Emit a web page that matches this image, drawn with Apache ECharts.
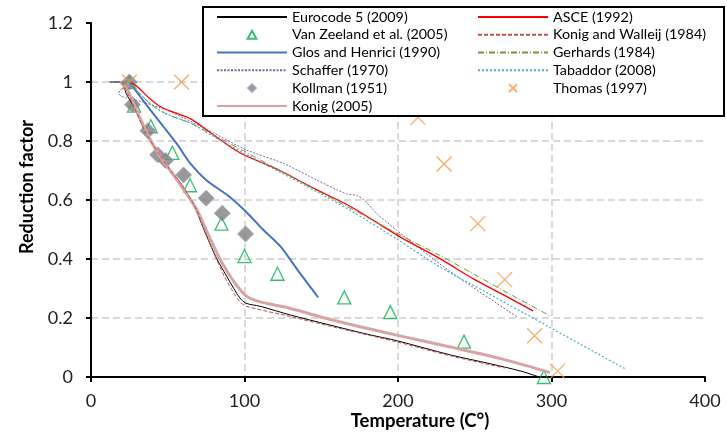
<!DOCTYPE html>
<html><head><meta charset="utf-8">
<script src="https://cdn.jsdelivr.net/npm/echarts@6/dist/echarts.min.js"></script>
<style>html,body{margin:0;padding:0;background:#fff}#c{width:727px;height:438px}</style>
</head><body><div id="c"></div>
<script>
// Data: [temperature °C, reduction factor]
const eurocode5 = [[12,1.0],[20,1.0],[23,0.96],[28,0.915],[36,0.825],[45,0.75],[52,0.70],[60,0.645],[68,0.57],[72,0.52],[76,0.47],[82,0.40],[88,0.345],[93,0.30],[97,0.268],[101,0.25],[110,0.24],[130,0.21],[155,0.177],[180,0.145],[200,0.122],[234,0.075],[260,0.045],[280,0.02],[292,0.0]];
const vanZeeland = [[25,1.0],[28,0.92],[39,0.85],[53,0.76],[64.5,0.65],[85,0.52],[100,0.41],[121.5,0.35],[165,0.27],[195,0.22],[243,0.12],[295,0.0]];
const glosHenrici = [[25,1.0],[35,0.93],[47,0.85],[56,0.79],[64.5,0.725],[75,0.668],[90,0.612],[101,0.56],[112,0.50],[123,0.445],[135,0.36],[148,0.27]];
const schaffer = [[22,0.985],[19,0.972],[18,0.962],[19.5,0.952],[23,0.946],[34,0.932],[49,0.905],[58,0.884],[80,0.827],[101,0.77],[125,0.725],[147,0.668],[160,0.635],[167,0.62],[173,0.616],[178,0.60],[186,0.555],[199,0.498],[234,0.357],[277.5,0.204]];
const kollman = [[25,1.0],[27,0.923],[37,0.835],[43.4,0.753],[48.6,0.734],[60.3,0.685],[75,0.606],[85.5,0.555],[100.7,0.485]];
const konig2005 = [[19,1.0],[24,0.97],[30,0.9],[38,0.81],[46,0.74],[53,0.69],[61,0.63],[69,0.566],[77,0.476],[83,0.41],[89,0.355],[95,0.31],[101,0.275],[108,0.258],[130,0.232],[156,0.195],[199,0.142],[234,0.102],[270,0.058],[299,0.015]];
const asce = [[25,1.0],[30,0.985],[38,0.945],[45,0.917],[55,0.895],[65,0.875],[80,0.82],[97,0.76],[123,0.70],[145,0.64],[169,0.578],[201,0.476],[227,0.402],[250,0.33],[270,0.275],[288,0.224]];
const konigWalleij = [[20,1.0],[24,0.96],[28,0.915],[36,0.825],[45,0.75],[52,0.70],[60,0.645],[68,0.575],[73,0.51],[80,0.42],[87,0.34],[93,0.285],[97,0.255],[101,0.24],[130,0.205],[160,0.167],[200,0.118],[234,0.072],[270,0.03]];
const gerhards = [[25,1.0],[30,0.97],[40,0.92],[50,0.89],[65,0.86],[80,0.82],[100,0.765],[123,0.70],[150,0.625],[175,0.555],[200,0.485],[227,0.413],[250,0.347],[275,0.275],[299.5,0.206]];
const tabaddor = [[25,1.0],[30,0.97],[40,0.92],[50,0.89],[65,0.86],[80,0.815],[100,0.758],[123,0.695],[150,0.62],[168.6,0.566],[200,0.465],[227,0.374],[260,0.28],[300,0.165],[349,0.025]];
const thomas = [[25,1.0],[59,1.0],[213,0.88],[230,0.722],[252,0.52],[269.5,0.33],[289,0.14],[304,0.02]];

const legendLeft = ['Eurocode 5 (2009)','Van Zeeland et al. (2005)','Glos and Henrici (1990)','Schaffer (1970)','Kollman (1951)','Konig (2005)'];
const legendRight = ['ASCE (1992)','Konig and Walleij (1984)','Gerhards (1984)','Tabaddor (2008)','Thomas (1997)'];
const legendIcons = {
  'Van Zeeland et al. (2005)': 'path://M5,0L10,9L0,9Z',
  'Kollman (1951)': 'path://M5,0L10,5L5,10L0,5Z',
  'Thomas (1997)': 'path://M0,0L10,10M10,0L0,10'
};

const FONT = 'Lato';
function line(name, data, color, width, type, smooth) {
  return {name, type:'line', data, symbol:'none', smooth: smooth === undefined ? 0.3 : smooth,
    lineStyle:{color, width, type}, itemStyle:{color}, emphasis:{disabled:true}};
}
const series = [
  line('Eurocode 5 (2009)', eurocode5, '#000000', 1, 'solid'),
  {name:'Van Zeeland et al. (2005)', type:'scatter', data:vanZeeland, symbol:'triangle', symbolSize:13,
    itemStyle:{color:'rgba(255,255,255,0)', borderColor:'#00b050', borderWidth:1.3}},
  line('Glos and Henrici (1990)', glosHenrici, '#4472c4', 2, 'solid'),
  line('Schaffer (1970)', schaffer, '#7a63a0', 1, [2,1.5], 0.2),
  {name:'Kollman (1951)', type:'scatter', data:kollman, symbol:'diamond', symbolSize:16,
    itemStyle:{color:'#7f7f7f', borderColor:'#a0a0b8', borderWidth:1}},
  line('Konig (2005)', konig2005, '#d6a4a4', 3, 'solid'),
  line('ASCE (1992)', asce, '#ff0000', 1.3, 'solid'),
  line('Konig and Walleij (1984)', konigWalleij, '#c0504d', 1, [4,2]),
  line('Gerhards (1984)', gerhards, '#77933c', 1, [6,2,1,2]),
  line('Tabaddor (2008)', tabaddor, '#4bacc6', 1.2, [2,2]),
  {name:'Thomas (1997)', type:'scatter', data:thomas, symbol:'path://M0,0L10,10M10,0L0,10', symbolSize:15, symbolKeepAspect:true,
    itemStyle:{color:'rgba(0,0,0,0)', borderColor:'#f79646', borderWidth:1.3}}
];
function legendData(names){
  return names.map(n => legendIcons[n] ? {name:n, icon:legendIcons[n]} : {name:n, itemStyle:{opacity:0}});
}
const legendCommon = {orient:'vertical', padding:0, itemGap:0, itemWidth:70, itemHeight:8, z:20,
  symbolKeepAspect:true, selectedMode:false,
  textStyle:{fontFamily:FONT, fontSize:14.3, color:'#000', lineHeight:17.8}};

const chart = echarts.init(document.getElementById('c'), null, {renderer:'canvas'});
chart.setOption({
  animation:false,
  textStyle:{fontFamily:FONT},
  grid:{left:91, right:22, top:23, bottom:61, containLabel:false, outerBoundsMode:'none'},
  xAxis:{type:'value', min:0, max:400, interval:100,
    name:'Temperature (C°)', nameLocation:'middle', nameGap:35, nameMoveOverlap:false,
    nameTextStyle:{fontFamily:FONT, fontWeight:'bold', fontSize:18.5, color:'#000', padding:[0,0,0,44]},
    axisLine:{lineStyle:{color:'#000', width:2}},
    axisTick:{show:true, length:5, lineStyle:{color:'#000', width:2}},
    axisLabel:{fontFamily:FONT, fontSize:18, color:'#222', margin:15},
    splitLine:{show:true, showMinLine:false, showMaxLine:false, lineStyle:{color:'#d9d9d9', width:2, type:[7,4]}}},
  yAxis:{type:'value', min:0, max:1.2, interval:0.2,
    name:'Reduction factor', nameLocation:'middle', nameGap:55, nameRotate:90, nameMoveOverlap:false,
    nameTextStyle:{fontFamily:FONT, fontWeight:'bold', fontSize:18, color:'#000', padding:[0,0,0,26]},
    axisLine:{show:true, lineStyle:{color:'#000', width:2}},
    axisTick:{show:true, length:5, lineStyle:{color:'#000', width:2}},
    axisLabel:{fontFamily:FONT, fontSize:18, color:'#222', margin:18,
      formatter: v => String(Math.round(v*10)/10)},
    splitLine:{show:true, showMinLine:false, showMaxLine:false, lineStyle:{color:'#d9d9d9', width:2, type:[7,4]}}},
  graphic:[{type:'rect', z:10, shape:{x:203, y:7, width:521, height:109},
    style:{fill:'#fff', stroke:'#000', lineWidth:2}}],
  legend:[
    Object.assign({left:216, top:8, data:legendData(legendLeft)}, legendCommon),
    Object.assign({left:477, top:8, data:legendData(legendRight)}, legendCommon)
  ],
  series
});
</script></body></html>
